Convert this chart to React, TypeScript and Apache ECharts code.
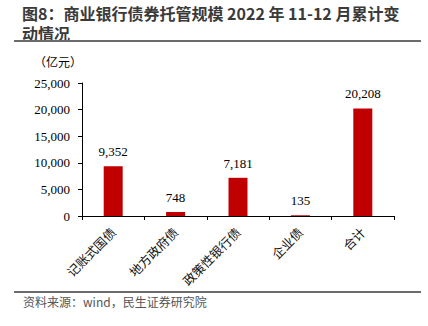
import React, { useEffect, useRef } from "react";
import * as echarts from "echarts";

const categories = ["记账式国债", "地方政府债", "政策性银行债", "企业债", "合计"];
const values = [9352, 748, 7181, 135, 20208];
const yTicks = [0, 5000, 10000, 15000, 20000, 25000];

const titleLine1 = "图8：商业银行债券托管规模 2022 年 11-12 月累计变";
const titleLine2 = "动情况";
const unitText = "（亿元）";
const sourceText = "资料来源：wind，民生证券研究院";

export default function App() {
  const ref = useRef<HTMLDivElement>(null);
  useEffect(() => {
    const chart = echarts.init(ref.current!, null, { renderer: "svg" });
    const titleStyle = {
      fontFamily: "Noto Sans CJK SC",
      fontSize: 16,
      fontWeight: "bold",
      fill: "#3a3a3a",
      lineHeight: 18,
    };
    chart.setOption({
      animation: false,
      backgroundColor: "#ffffff",
      graphic: [
        { type: "text", left: 22, top: 4, style: { text: titleLine1, ...titleStyle } },
        { type: "text", left: 22, top: 24, style: { text: titleLine2, ...titleStyle } },
        {
          type: "rect",
          shape: { x: 14, y: 40, width: 407, height: 2 },
          style: { fill: "#6b6b6b" },
        },
        {
          type: "text",
          left: 34,
          top: 55,
          style: { text: unitText, fontFamily: "Noto Sans CJK SC", fontSize: 12, fill: "#000" },
        },
        {
          type: "rect",
          shape: { x: 14, y: 291, width: 407, height: 2 },
          style: { fill: "#6b6b6b" },
        },
        {
          type: "text",
          left: 23,
          top: 295,
          style: { text: sourceText, fontFamily: "Noto Sans CJK SC", fontSize: 12, fill: "#555" },
        },
      ],
      grid: { left: 82, right: 34, top: 83, bottom: 110, containLabel: false },
      xAxis: {
        type: "category",
        data: categories,
        axisLine: { lineStyle: { color: "#000", width: 1 } },
        axisTick: { show: true, alignWithLabel: false, length: 4, lineStyle: { color: "#000" } },
        axisLabel: {
          rotate: 45,
          interval: 0,
          color: "#111",
          fontSize: 12.5,
          fontFamily: "Noto Sans CJK SC",
          margin: 14,
        },
      },
      yAxis: {
        type: "value",
        min: yTicks[0],
        max: yTicks[yTicks.length - 1],
        interval: 5000,
        axisLine: { show: true, lineStyle: { color: "#000" } },
        axisTick: { show: true, length: 4, lineStyle: { color: "#000" } },
        splitLine: { show: false },
        axisLabel: {
          color: "#000",
          fontSize: 13,
          fontFamily: "Liberation Serif",
          margin: 12,
          formatter: (v: number) => v.toLocaleString("en-US"),
        },
      },
      series: [
        {
          type: "bar",
          data: values,
          barWidth: 19,
          itemStyle: { color: "#C00000" },
          label: {
            show: true,
            position: "top",
            distance: 8,
            color: "#000",
            fontSize: 13,
            fontFamily: "Liberation Serif",
            formatter: (p: any) => p.value.toLocaleString("en-US"),
          },
        },
      ],
    });
    return () => chart.dispose();
  }, []);
  return <div ref={ref} style={{ width: 428, height: 326, position: "absolute", left: 0, top: 0 }} />;
}
